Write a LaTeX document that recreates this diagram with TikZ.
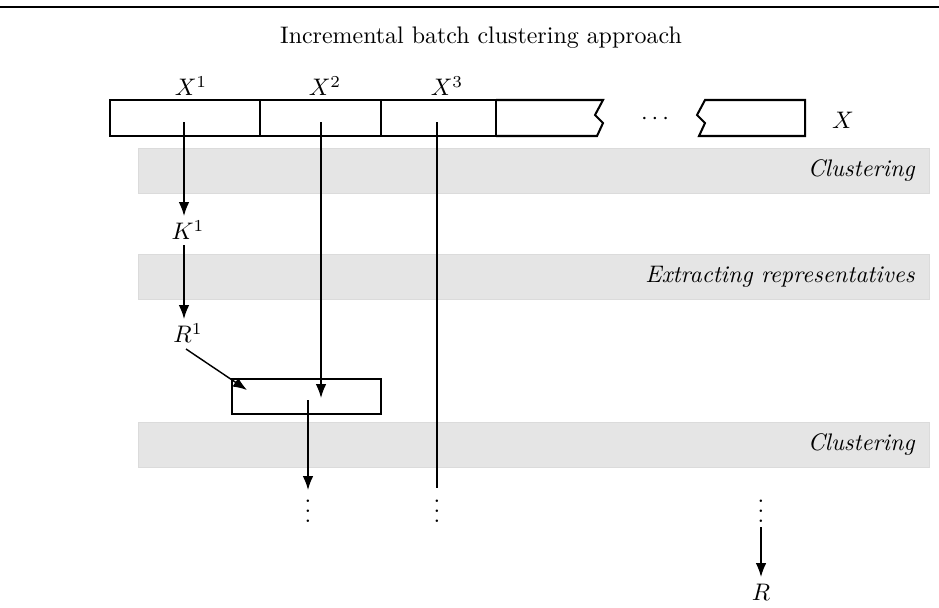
\documentclass[tikz,border=0pt]{standalone}
\usetikzlibrary{arrows.meta}
\begin{document}
\begin{tikzpicture}[x=0.418pt,y=-0.418pt,
  seg/.style={draw,line width=0.85pt},
  band/.style={fill=black!10,draw=black!14,line width=0.4pt},
  bandlabel/.style={anchor=east,font=\itshape,inner sep=0pt},
  flow/.style={line width=0.6pt,-{Latex[length=5.8pt,width=4.4pt]}},
  plain/.style={line width=0.6pt},
  lbl/.style={inner sep=1pt}]
\useasboundingbox (0,0) rectangle (939,607);
% top rule
\draw[line width=0.9pt] (0,7) -- (939,7);
\node (title) at (481,38) {Incremental batch clustering approach};
% bands
\draw[band] (138,148) rectangle (929,193);
\draw[band] (138,254) rectangle (929,299);
\draw[band] (138,422) rectangle (929,467);
\node[bandlabel] (b1) at (915,171) {Clustering};
\node[bandlabel] (b2) at (915,277) {Extracting representatives};
\node[bandlabel] (b3) at (915,445) {Clustering};
% data strip
\draw[seg] (110,100) rectangle (260,136);
\draw[seg] (260,100) rectangle (381,136);
\draw[seg] (381,100) rectangle (496,136);
\draw[seg,line join=miter] (496,100) -- (603,100) -- (595,115) -- (603,123) -- (597,136) -- (496,136);
\draw[seg,line join=miter] (805,100) -- (705,100) -- (697,115) -- (705,123) -- (699,136) -- (805,136) -- cycle;
\node (X1) at (191,86) {$X^1$};
\node (X2) at (325,86) {$X^2$};
\node (X3) at (447,86) {$X^3$};
\node (cd) at (655,119) {$\cdots$};
\node (X) at (843,120) {$X$};
% flow
\coordinate (s1) at (184,122);
\coordinate (s2) at (321,122);
\coordinate (s3) at (437,122);
\node[lbl] (K1) at (188,230) {$K^1$};
\node[lbl] (R1) at (188,333) {$R^1$};
\node[draw,line width=0.85pt,minimum width=149*0.418pt,minimum height=35*0.418pt,inner sep=0pt] (M) at (306.5,396.5) {};
\coordinate (k1t) at (184,216);
\coordinate (k1b) at (184,245);
\coordinate (r1t) at (184,319);
\coordinate (r1b) at (186,349);
\coordinate (m1) at (247,390);
\coordinate (m2) at (321,398);
\coordinate (m3) at (308,400);
\coordinate (e1) at (308,490);
\coordinate (e2) at (437,488);
\coordinate (e3) at (761,527);
\coordinate (e4) at (761,577);
\draw[flow] (s1) -- (k1t);
\draw[flow] (k1b) -- (r1t);
\draw[flow] (r1b) -- (m1);
\draw[flow] (s2) -- (m2);
\draw[flow] (m3) -- (e1);
\draw[plain] (s3) -- (e2);
\node[inner sep=0pt] (d1) at (308,504) {$\vdots$};
\node[inner sep=0pt] (d2) at (437,504) {$\vdots$};
\node[inner sep=0pt] (d3) at (761,504) {$\vdots$};
\node[lbl] (R) at (761,592) {$R$};
\draw[flow] (e3) -- (e4);
\end{tikzpicture}
\end{document}
